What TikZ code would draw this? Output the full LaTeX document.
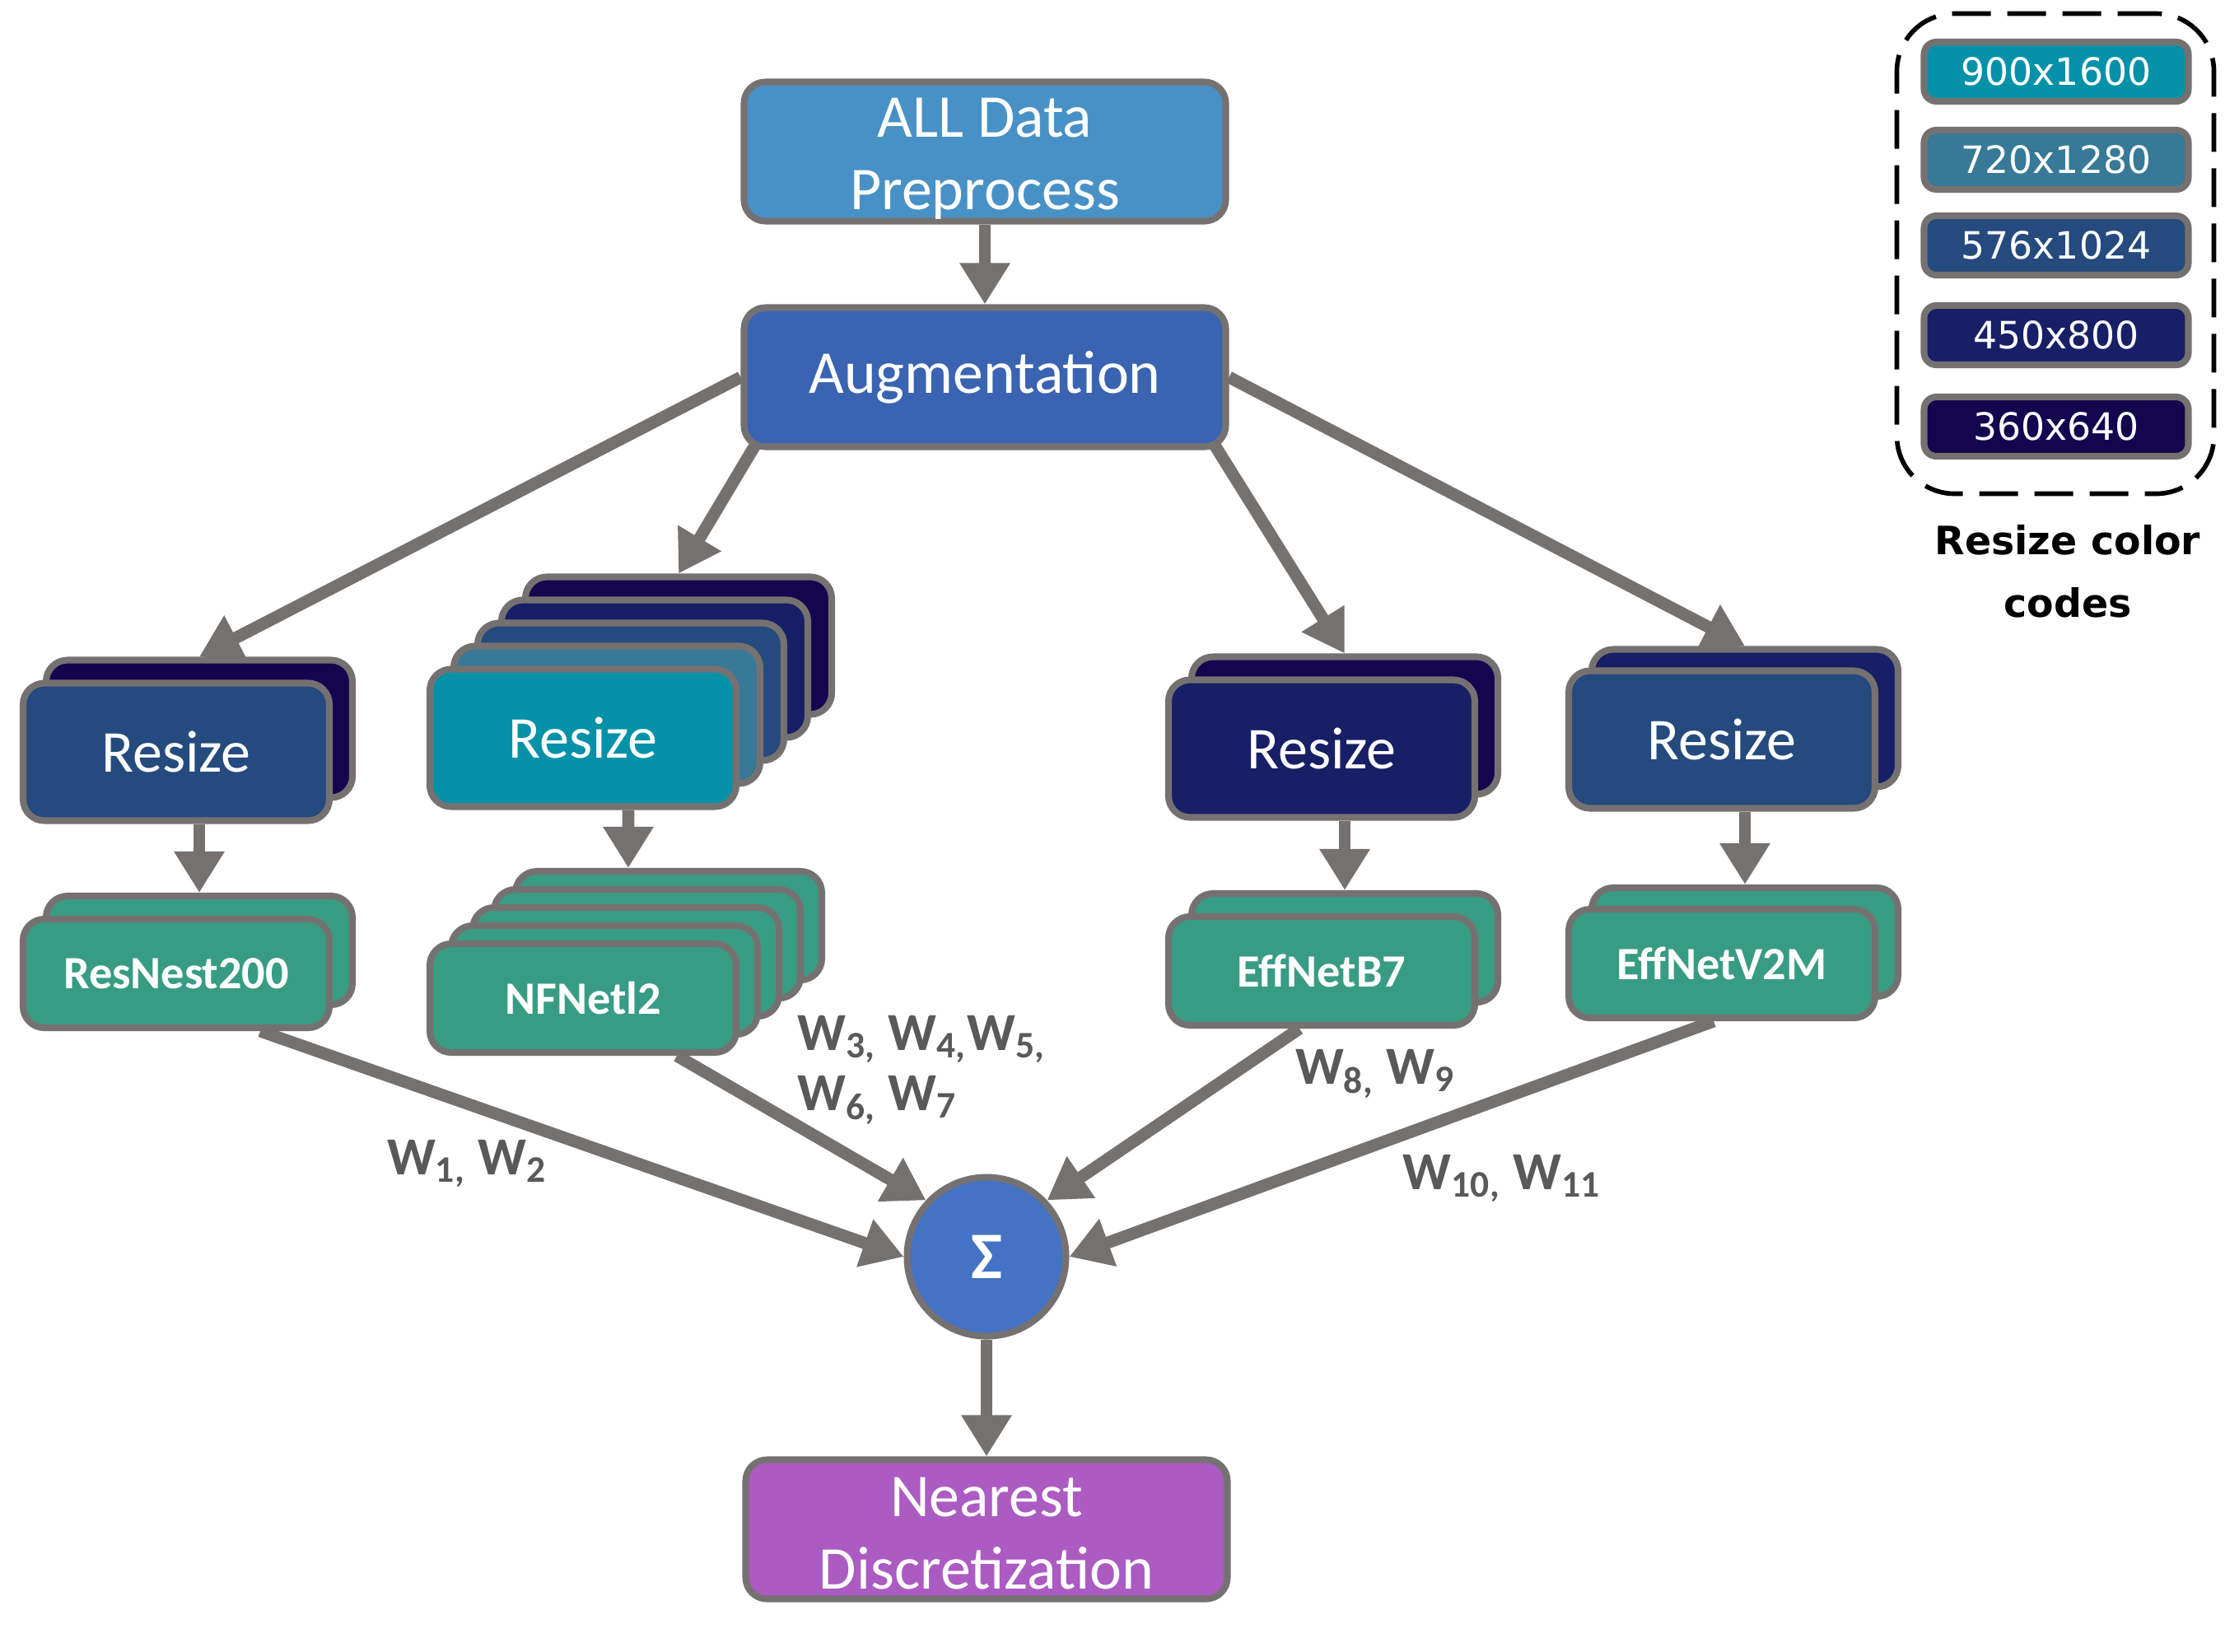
\documentclass[tikz,border=0pt]{standalone}
\usepackage{fontspec}
\setmainfont{Carlito}
\newfontfamily\legendfont{DejaVu Sans}
\usetikzlibrary{arrows.meta,backgrounds,positioning}
\definecolor{edgegray}{HTML}{767171}
\definecolor{labelgray}{HTML}{595959}
\definecolor{prepblue}{HTML}{4891C6}
\definecolor{augblue}{HTML}{3A64B1}
\definecolor{c900}{HTML}{0592A8}
\definecolor{c720}{HTML}{377996}
\definecolor{c576}{HTML}{254A7E}
\definecolor{c450}{HTML}{171F66}
\definecolor{c360}{HTML}{13064F}
\definecolor{modelgreen}{HTML}{389C84}
\definecolor{sigmablue}{HTML}{4472C4}
\definecolor{nearpurple}{HTML}{AB5BC2}

\begin{document}
\begin{tikzpicture}[box/.style={draw=edgegray, line width=2.3pt, rounded corners=0.26cm, text=white, inner sep=0pt, align=center},
bigbox/.style={box, minimum width=5.85cm, minimum height=1.69cm, font=\fontsize{21}{25}\selectfont},
resizebox/.style={box, minimum width=3.72cm, minimum height=1.67cm, font=\fontsize{20.5}{24}\selectfont},
modelbox/.style={box, fill=modelgreen, minimum width=3.72cm, minimum height=1.32cm, font=\bfseries\fontsize{16}{19}\selectfont},
codebox/.style={box, rounded corners=0.15cm, minimum width=3.21cm, minimum height=0.72cm, font=\legendfont\fontsize{13}{15}\selectfont},
flow/.style={draw=edgegray, line width=4.2pt, -{Triangle[width=0.58cm,length=0.5cm]}},
weight/.style={text=labelgray, font=\bfseries\fontsize{18.5}{21}\selectfont, inner sep=0pt}]
\useasboundingbox (0,0) rectangle (27.19,-20.05);
\node[bigbox, fill=prepblue] (prep) at (11.96,-1.84) {\rule{0pt}{18.5pt}ALL Data\\Preprocess};
\node[bigbox, fill=augblue, below of=prep, node distance=2.74cm] (aug) {Augmentation};
\node[resizebox, fill=c360] (r1b) at (2.42,-8.85) {};
\node[resizebox, fill=c576] (r1) at (2.14,-9.13) {Resize};
\foreach \k/\c in {4/c360,3/c450,2/c576,1/c720}
  \node[resizebox, fill=\c] (r2s\k) at ({7.08+0.29*\k},{-8.96+0.28*\k}) {};
\node[resizebox, fill=c900] (r2) at (7.08,-8.96) {Resize};
\node[resizebox, fill=c360] (r3b) at (16.33,-8.81) {};
\node[resizebox, fill=c450] (r3) at (16.05,-9.09) {Resize};
\node[resizebox, fill=c450] (r4b) at (21.19,-8.72) {};
\node[resizebox, fill=c576] (r4) at (20.91,-8.98) {Resize};
\node[modelbox] (m1b) at (2.42,-11.54) {};
\node[modelbox] (m1) at (2.14,-11.82) {ResNest200};
\foreach \k in {4,3,2,1}
  \node[modelbox] (m2s\k) at ({7.08+0.26*\k},{-12.12+0.22*\k}) {};
\node[modelbox] (m2) at (7.08,-12.12) {NFNetl2};
\node[modelbox] (m3b) at (16.33,-11.51) {};
\node[modelbox] (m3) at (16.05,-11.79) {EffNetB7};
\node[modelbox] (m4b) at (21.19,-11.44) {};
\node[modelbox] (m4) at (20.91,-11.70) {EffNetV2M};
\node[circle, draw=edgegray, line width=2.3pt, fill=sigmablue, text=white, minimum size=1.93cm, inner sep=0pt, font=\bfseries\fontsize{23}{27}\selectfont] (sum) at (11.98,-15.26) {Σ};
\node[bigbox, fill=nearpurple, below of=sum, node distance=3.31cm] (near) {\rule{0pt}{16.5pt}Nearest\\Discretization};
\node[weight] (w12) at (5.67,-14.13) {W\textsubscript{1,} W\textsubscript{2}};
\node[weight, align=left, anchor=west] (w37) at (9.68,-12.99) {W\textsubscript{3,} W\textsubscript{4,}W\textsubscript{5,}\\W\textsubscript{6,} W\textsubscript{7}};
\node[weight] (w89) at (16.70,-13.04) {W\textsubscript{8,} W\textsubscript{9}};
\node[weight] (w1011) at (18.24,-14.31) {W\textsubscript{10,} W\textsubscript{11}};
\node[draw, line width=1.6pt, dash pattern=on 0.47cm off 0.2cm, rounded corners=0.7cm, minimum width=3.85cm, minimum height=5.83cm] (legend) at (24.96,-3.08) {};
\foreach \c/\t/\y in {c900/900x1600/-0.87, c720/720x1280/-1.94, c576/576x1024/-2.98, c450/450x800/-4.07, c360/360x640/-5.18}
  \node[codebox, fill=\c] (code\t) at (24.97,\y) {\t};
\node[align=center, inner sep=0pt, font=\legendfont\bfseries\fontsize{13.5}{21.6}\selectfont] (legendcap) at (25.11,-6.94) {Resize color\\codes};
\begin{scope}[on background layer, every edge/.style=flow]
\path
(prep) edge (aug)
(aug.west) edge (r1b.north)
([xshift=0.2cm,yshift=0.1cm]aug.south west) edge (r2s4.north)
([xshift=-0.2cm,yshift=0.1cm]aug.south east) edge (r3b.north)
(aug.east) edge (r4b.north)
(r1.south -| m1b.north) edge (m1b.north)
([xshift=0.55cm]r2.south) edge ([xshift=-0.49cm]m2s4.north)
(r3.south -| m3b.north) edge (m3b.north)
(r4.south -| m4b.north) edge (m4b.north)
([xshift=1.02cm]m1.south) edge (sum.west)
([xshift=1.14cm]m2.south) edge (sum.137)
([xshift=-0.27cm]m3.south) edge (sum.43)
([xshift=-0.10cm]m4.south) edge (sum.east)
(sum) edge (near);
\end{scope}
\end{tikzpicture}
\end{document}
